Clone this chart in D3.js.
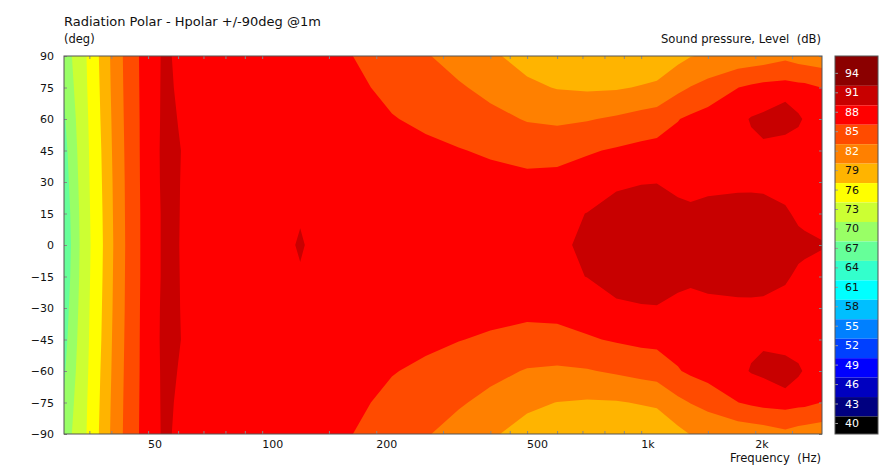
<!DOCTYPE html>
<html>
<head>
<meta charset="utf-8">
<script src="https://cdn.jsdelivr.net/npm/d3@7"></script>
<style>
  html, body { margin: 0; padding: 0; background: #fff; }
  text { font-family: "DejaVu Sans", sans-serif; font-size: 11px; fill: #111; }
</style>
</head>
<body>
<svg id="chart" width="892" height="469"></svg>
<script>
// measurement grid, Hz across and degrees down
const freqs = [30, 32, 34, 36, 38, 40, 43, 46, 48, 52, 56, 60, 65, 80, 100, 112, 122, 126, 132, 150, 180, 220, 270, 330, 400, 500, 600, 720, 860, 1000, 1100, 1250, 1350, 1500, 1800, 1950, 2100, 2400, 2600, 2700, 3000];
const angles = [90, 75, 60, 45, 30, 15, 0, -15, -30, -45, -60, -75, -90];

// dB per angle, one value for each frequency
const splP90 = [69.5, 72.2, 74.05, 76.25, 78.55, 80.85, 83.6, 85.7, 86.9, 89.1, 89.9, 89.0, 88.9, 88.8, 88.5, 88.2, 88.0, 87.95, 87.8, 87.3, 86.3, 85.0, 83.75, 82.3, 81.0, 79.4, 78.0, 78.0, 78.0, 78.2, 78.3, 79.6, 80.4, 80.8, 81.5, 81.7, 81.95, 82.8, 82.2, 82.0, 81.7];
const splP75 = [68.8, 71.7, 73.9, 76.05, 78.35, 80.7, 83.5, 85.65, 86.85, 89.05, 90.0, 89.2, 88.9, 88.8, 88.7, 88.5, 88.4, 88.4, 88.3, 88.0, 86.9, 85.8, 84.85, 83.85, 82.65, 81.1, 80.35, 80.1, 80.2, 80.7, 81.1, 82.8, 83.6, 84.6, 86.47, 87.0, 87.4, 87.6, 87.3, 87.25, 86.45];
const splP60 = [68.1, 71.2, 73.65, 75.85, 78.15, 80.5, 83.4, 85.6, 86.8, 89.0, 90.1, 89.45, 88.95, 88.9, 88.8, 88.75, 88.7, 88.7, 88.65, 88.4, 87.6, 86.65, 85.95, 85.1, 84.35, 83.3, 83.0, 83.3, 83.9, 84.6, 85.0, 86.4, 87.0, 87.65, 88.7, 89.7, 90.1, 91.8, 90.0, 89.2, 88.0];
const splP45 = [67.4, 70.8, 73.5, 75.65, 77.9, 80.35, 83.3, 85.5, 86.8, 89.0, 90.2, 89.65, 88.95, 88.9, 88.9, 88.9, 88.9, 88.9, 88.85, 88.7, 88.1, 87.5, 87.1, 86.65, 86.1, 85.4, 85.3, 86.2, 86.8, 87.3, 87.5, 87.6, 87.9, 88.4, 88.6, 88.9, 89.15, 87.2, 88.0, 88.5, 88.3];
const splP30 = [66.9, 70.4, 73.4, 75.5, 77.75, 80.2, 83.2, 85.5, 86.75, 88.95, 90.2, 89.6, 88.95, 88.95, 88.95, 88.95, 88.95, 88.95, 88.95, 88.9, 88.6, 88.3, 88.1, 87.8, 87.5, 87.3, 87.6, 88.0, 89.2, 89.4, 89.45, 88.85, 88.9, 89.0, 89.0, 89.0, 88.9, 88.7, 88.6, 88.6, 88.5];
const splP15 = [66.35, 70.0, 73.3, 75.35, 77.6, 80.1, 83.15, 85.45, 86.7, 88.9, 90.1, 89.57, 89.0, 89.0, 89.0, 89.0, 89.1, 89.24, 89.1, 89.0, 88.9, 88.8, 88.7, 88.6, 88.5, 88.5, 88.9, 89.55, 90.2, 90.5, 90.5, 90.2, 89.85, 90.1, 90.45, 90.5, 90.5, 89.8, 89.1, 88.9, 88.4];
const spl0 = [66, 69.8, 73.2, 75.25, 77.5, 80.0, 83.1, 85.4, 86.7, 88.9, 90.1, 89.55, 89.0, 89.0, 89.0, 89.1, 89.48, 89.8, 89.3, 89.1, 89.0, 89.0, 89.0, 89.0, 88.9, 88.9, 89.0, 90.0, 90.8, 91.0, 91.0, 90.7, 90.6, 90.6, 90.8, 90.8, 90.8, 90.3, 90.1, 90.0, 89.7];
const splM15 = [66.35, 70.0, 73.3, 75.35, 77.6, 80.1, 83.15, 85.45, 86.7, 88.9, 90.1, 89.57, 89.0, 89.0, 89.0, 89.0, 89.1, 89.24, 89.1, 89.0, 88.9, 88.8, 88.7, 88.6, 88.5, 88.5, 88.9, 89.55, 90.2, 90.5, 90.5, 90.2, 89.85, 90.1, 90.45, 90.5, 90.5, 89.8, 89.1, 88.9, 88.4];
const splM30 = [66.9, 70.4, 73.4, 75.5, 77.75, 80.2, 83.2, 85.5, 86.75, 88.95, 90.2, 89.6, 88.95, 88.95, 88.95, 88.95, 88.95, 88.95, 88.95, 88.9, 88.6, 88.3, 88.1, 87.8, 87.5, 87.3, 87.6, 88.0, 89.2, 89.35, 89.4, 88.85, 88.9, 89.0, 89.0, 89.0, 88.9, 88.7, 88.6, 88.6, 88.5];
const splM45 = [67.4, 70.8, 73.5, 75.65, 77.9, 80.35, 83.3, 85.5, 86.8, 89.0, 90.2, 89.65, 88.95, 88.9, 88.9, 88.9, 88.9, 88.9, 88.85, 88.7, 88.1, 87.5, 87.1, 86.6, 86.1, 85.5, 85.4, 86.2, 86.8, 87.2, 87.3, 87.6, 87.9, 88.4, 88.6, 88.9, 89.15, 87.2, 88.0, 88.5, 88.3];
const splM60 = [68.1, 71.2, 73.65, 75.85, 78.15, 80.5, 83.4, 85.6, 86.8, 89.0, 90.1, 89.45, 88.95, 88.9, 88.8, 88.75, 88.7, 88.7, 88.65, 88.4, 87.6, 86.65, 85.95, 85.1, 84.35, 83.3, 83.1, 83.3, 83.9, 84.5, 84.8, 86.3, 87.0, 87.65, 88.7, 89.7, 90.1, 91.8, 90.0, 89.2, 88.0];
const splM75 = [68.8, 71.7, 73.9, 76.05, 78.35, 80.7, 83.5, 85.65, 86.85, 89.05, 90.0, 89.2, 88.9, 88.8, 88.7, 88.5, 88.4, 88.4, 88.3, 88.0, 86.9, 85.8, 84.85, 83.85, 82.65, 81.1, 80.45, 80.2, 80.3, 80.7, 81.0, 82.8, 83.6, 84.6, 86.47, 87.0, 87.4, 87.6, 87.3, 87.25, 86.45];
const splM90 = [69.5, 72.2, 74.05, 76.25, 78.55, 80.85, 83.6, 85.7, 86.9, 89.1, 89.9, 89.0, 88.9, 88.8, 88.5, 88.2, 88.0, 87.95, 87.8, 87.3, 86.3, 85.0, 83.75, 82.3, 80.9, 79.4, 78.0, 78.0, 78.0, 78.2, 78.3, 79.7, 80.6, 80.9, 81.5, 81.7, 81.95, 82.8, 82.2, 82.0, 81.7];

// colour bar, top to bottom
const barLevels = [94, 91, 88, 85, 82, 79, 76, 73, 70, 67, 64, 61, 58, 55, 52, 49, 46, 43, 40];
const barColors = ["#8b0000", "#c80000", "#ff0000", "#ff4b00", "#ff8000", "#ffb400", "#ffff00", "#ccff33", "#99ff66", "#66ff99", "#33ffcc", "#00ffff", "#00bfff", "#0080ff", "#0040ff", "#0000ff", "#0000c0", "#000080", "#000000"];
const barTextColors = ["#fff", "#fff", "#fff", "#fff", "#ffe", "#111", "#111", "#111", "#111", "#111", "#111", "#111", "#111", "#fff", "#fff", "#fff", "#fff", "#fff", "#fff"];
const barDomain = [38.3, 96.6];

const freqTicks = [35, 40, 50, 60, 70, 80, 90, 100, 150, 200, 300, 400, 450, 500, 600, 700, 800, 900, 1000, 1500, 2000, 2500];
const freqLabels = {50: "50", 100: "100", 200: "200", 500: "500", 1000: "1k", 2000: "2k"};
const angleTicks = [90, 75, 60, 45, 30, 15, 0, -15, -30, -45, -60, -75, -90];

const margin = {top: 56, right: 70, bottom: 35, left: 64},
      width = 892 - margin.left - margin.right,
      height = 469 - margin.top - margin.bottom;

const svg = d3.select("#chart");
const g = svg.append("g").attr("transform", `translate(${margin.left},${margin.top})`);

const x = d3.scaleLog().domain([30, 3000]).range([0, width]);
const y = d3.scaleLinear().domain([90, -90]).range([0, height]);

// d3.contours puts grid value i at i + 0.5
const gridX = d3.scaleLinear().domain(freqs.map((f, i) => i + 0.5)).range(freqs.map(f => x(f))).clamp(true);
const gridY = d3.scaleLinear().domain(angles.map((a, i) => i + 0.5)).range(angles.map(a => y(a))).clamp(true);
const gridPath = d3.geoPath(d3.geoTransform({
  point(c, r) { this.stream.point(gridX(c), gridY(r)); }
}));

const spl = [splP90, splP75, splP60, splP45, splP30, splP15, spl0, splM15, splM30, splM45, splM60, splM75, splM90];

// lowest band first, each one painted over the last
const bands = barLevels.slice().reverse().map((level, i) => ({
  low: level - 1.5,
  color: barColors[barColors.length - 1 - i]
}));
const contours = d3.contours()
  .size([freqs.length, angles.length])
  .thresholds(bands.map(d => d.low))(spl.flat());

g.selectAll("path.band")
  .data(contours)
  .join("path")
    .attr("class", "band")
    .attr("d", gridPath)
    .attr("fill", (d, i) => bands[i].color);

// x axis, labels start at the tick
const xAxis = g.append("g")
  .attr("transform", `translate(0,${height})`)
  .call(d3.axisBottom(x).tickValues(freqTicks).tickSize(-3).tickPadding(6)
    .tickFormat(d => freqLabels[d] || ""));
xAxis.selectAll("text").attr("text-anchor", "start").attr("dx", "-0.5");

const xTop = g.append("g")
  .call(d3.axisTop(x).tickValues(freqTicks).tickSize(-3).tickFormat(""));

// y axis
const yAxis = g.append("g")
  .call(d3.axisLeft(y).tickValues(angleTicks).tickSize(-3).tickPadding(10));
const yRight = g.append("g")
  .attr("transform", `translate(${width},0)`)
  .call(d3.axisRight(y).tickValues(angleTicks).tickSize(-3).tickFormat(""));

[xAxis, xTop, yAxis, yRight].forEach(a => {
  a.select(".domain").remove();
  a.selectAll(".tick line").attr("stroke", "#888");
});

g.append("rect")
  .attr("x", 0).attr("y", 0)
  .attr("width", width).attr("height", height)
  .attr("fill", "none")
  .attr("stroke", "#555");

// colour bar, labels sit low in the step so the top step is taller
const bar = svg.append("g").attr("transform", `translate(835,${margin.top})`);
const barWidth = 43;
const barY = d3.scaleLinear().domain(barDomain).range([height, 0]);
const stepTop = d => d === barLevels[0] ? barDomain[1] : d + 1;
const stepBottom = d => Math.max(d - 2, barDomain[0]);

bar.selectAll("rect.level")
  .data(barLevels)
  .join("rect")
    .attr("class", "level")
    .attr("x", 0)
    .attr("y", d => barY(stepTop(d)))
    .attr("width", barWidth)
    .attr("height", d => barY(stepBottom(d)) - barY(stepTop(d)))
    .attr("fill", (d, i) => barColors[i]);

const barAxis = bar.append("g")
  .call(d3.axisRight(barY).tickValues(barLevels).tickSize(3).tickPadding(7));
barAxis.select(".domain").remove();
barAxis.selectAll(".tick line").attr("stroke", "#999");
barAxis.selectAll(".tick text").style("fill", (d, i) => barTextColors[i]);

bar.append("rect")
  .attr("width", barWidth).attr("height", height)
  .attr("fill", "none")
  .attr("stroke", "#555");

// titles
svg.append("text").attr("x", 64).attr("y", 26).style("font-size", "13px").text("Radiation Polar - Hpolar +/-90deg @1m");
svg.append("text").attr("x", 64).attr("y", 43).style("font-size", "11.5px").text("(deg)");
svg.append("text").attr("x", 821).attr("y", 43).attr("text-anchor", "end").attr("xml:space", "preserve").style("font-size", "11.6px").text("Sound pressure, Level  (dB)");
svg.append("text").attr("x", 821).attr("y", 462).attr("text-anchor", "end").attr("xml:space", "preserve").style("font-size", "11.6px").text("Frequency  (Hz)");
</script>
</body>
</html>
